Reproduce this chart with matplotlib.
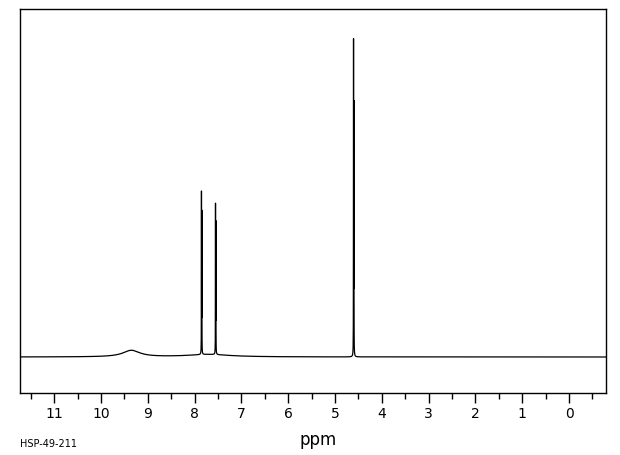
import numpy as np
import matplotlib.pyplot as plt
from matplotlib.ticker import MultipleLocator

# peak list (ppm, height, half width in ppm)
peak_ppm = [9.35, 7.70, 7.853, 7.845, 7.553, 7.545, 4.604, 4.596]
peak_height = [6.5, 2.5, 159, 139, 147, 129, 310, 246]
peak_width = [0.22, 0.55, 0.0015, 0.0015, 0.0015, 0.0015, 0.0015, 0.0015]

xmin, xmax = -0.79, 11.73
ticks = [11, 10, 9, 8, 7, 6, 5, 4, 3, 2, 1, 0]

ppm = np.linspace(xmin, xmax, 120000)
spec = np.zeros_like(ppm)
for p, h, w in zip(peak_ppm, peak_height, peak_width):
    spec += h * w**2 / ((ppm - p)**2 + w**2)

fig = plt.figure(figsize=(6.2, 4.55), dpi=100)
ax = fig.add_axes([20/620, 62/455, 586/620, 384/455])
ax.plot(ppm, spec, color='black', lw=0.9)
ax.set_xlim(xmax, xmin)
ax.set_ylim(-36, 348)

ax.set_yticks([])
ax.set_xticks(ticks)
ax.xaxis.set_minor_locator(MultipleLocator(0.5))
ax.tick_params(axis='x', which='major', length=7, width=1, direction='out',
               labelsize=10, pad=3)
ax.tick_params(axis='x', which='minor', length=4, width=1, direction='out')
for s in ax.spines.values():
    s.set_linewidth(1)

fig.text(318/620, 1 - 440/455, 'ppm', ha='center', va='center', fontsize=12)
fig.text(20/620, 1 - 444/455, 'HSP-49-211', ha='left', va='center', fontsize=7)

fig.savefig('out.png', dpi=100)
